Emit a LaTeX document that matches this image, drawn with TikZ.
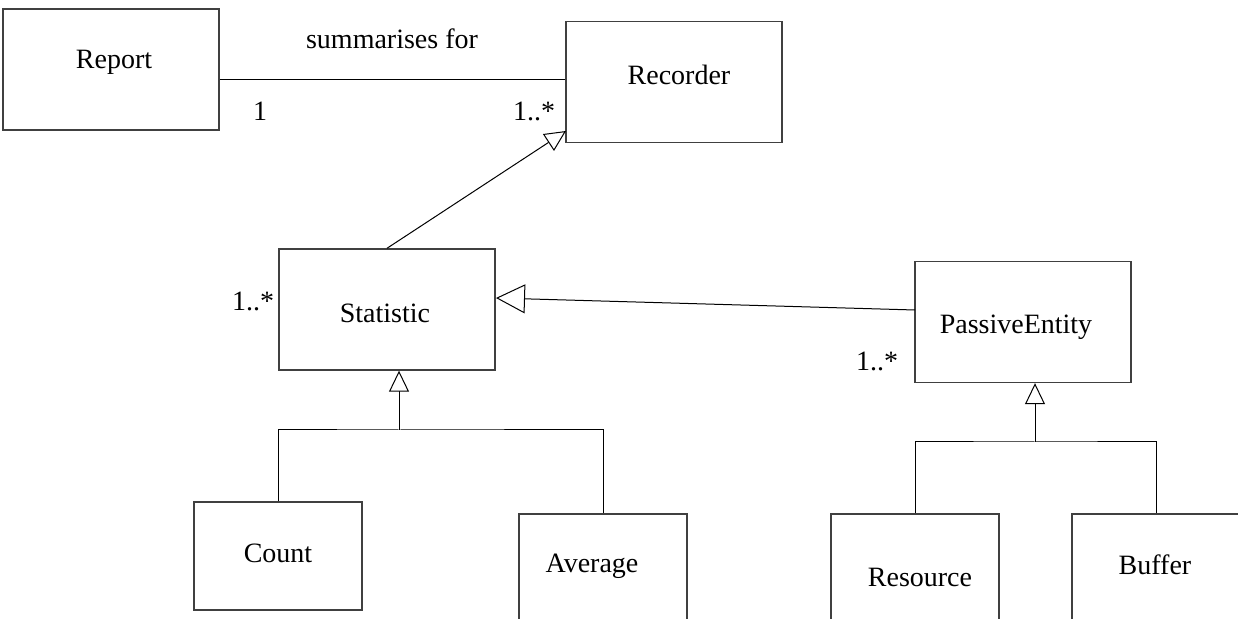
\documentclass[tikz,border=0pt]{standalone}
\usepackage{fontspec}
\setmainfont{Liberation Serif}
\usetikzlibrary{arrows.meta}

\begin{document}
\begin{tikzpicture}[x=0.5pt,y=-0.5pt,line width=0.5pt,
	class/.style={draw=black!75,line width=0.7pt,minimum width=108pt,minimum height=60.5pt,inner sep=0pt},
	leaf/.style={class,minimum width=84pt,minimum height=54pt},
	word/.style={inner sep=0pt,font=\fontsize{14}{16}\selectfont},
	gen/.style={-{Triangle[open,fill=white,length=10.5pt,width=10pt]}},
	biggen/.style={-{Triangle[open,fill=white,length=14.5pt,width=14.5pt]}}]
	\useasboundingbox (0,0) rectangle (1238,619);
	\clip (0,0) rectangle (1238,619);
	% classes
	\node [class] (report)    at (111,69.5)  {};
	\node [class] (recorder)  at (674,82)    {};
	\node [class] (statistic) at (387,309.5) {};
	\node [class] (passive)   at (1023,322)  {};
	\node [leaf]  (count)     at (278,556)   {};
	\node [leaf]  (average)   at (603,568)   {};
	\node [leaf]  (resource)  at (915,568)   {};
	\node [leaf]  (buffer)    at (1156,568)  {};
	\node [word] (reportname)    at (114,62)  {Report};
	\node [word] (recordername)  at (679,75)  {Recorder};
	\node [word] (statname)      at (385,313) {Statistic};
	\node [word] (passivename)   at (1016,327) {PassiveEntity};
	\node [word] (countname)     at (278,553) {Count};
	\node [word] (averagename)   at (592,566) {Average};
	\node [word] (resourcename)  at (920,577) {Resource};
	\node [word] (buffername)    at (1155,565) {Buffer};
	% association
	\coordinate (assoc) at (0,80);
	\draw (report.east |- assoc) -- (recorder.west |- assoc);
	\node [word] (assocname) at (392,39)  {summarises for};
	\node [word] (reportmult) at (260,111) {1};
	\node [word] (recordermult) at (534,111) {1..*};
	\node [word] (statmult) at (253,301) {1..*};
	\node [word] (passivemult) at (877,361) {1..*};
	% generalisations
	\coordinate (rectip) at (566,131);
	\draw [gen] (statistic.north) -- (rectip);
	\coordinate (pasfoot) at (915,310);
	\coordinate (stattip) at (496,298);
	\draw [biggen] (pasfoot) -- (stattip);
	\coordinate (statjoin) at (399,430);
	\draw (count.north) |- (statjoin) -| (average.north);
	\draw [gen] (statjoin) -- (statjoin |- statistic.south);
	\coordinate (pasjoin) at (1035,442);
	\draw (resource.north) |- (pasjoin) -| (buffer.north);
	\draw [gen] (pasjoin) -- (pasjoin |- passive.south);
\end{tikzpicture}
\end{document}
